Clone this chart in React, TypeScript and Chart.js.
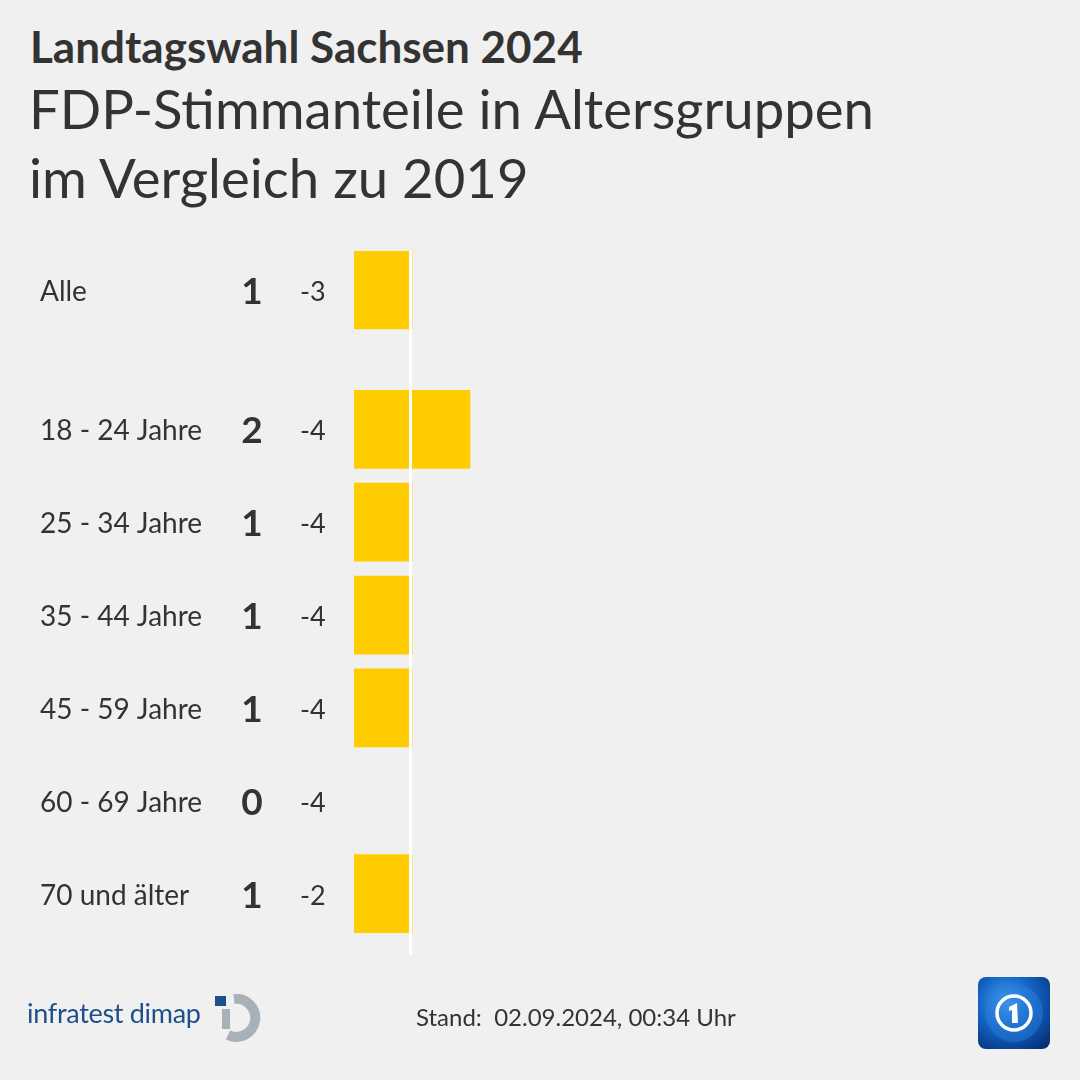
import React, { useEffect, useRef } from "react";
import { Chart, registerables } from "chart.js";

Chart.register(...registerables);

// ---- data ----
const CATEGORIES = [
  "Alle",
  "18 - 24 Jahre",
  "25 - 34 Jahre",
  "35 - 44 Jahre",
  "45 - 59 Jahre",
  "60 - 69 Jahre",
  "70 und älter",
];
const SHARES = [1, 2, 1, 1, 1, 0, 1];
const CHANGES = [-3, -4, -4, -4, -4, -4, -2];
const REFERENCE_VALUE = 1;
const X_MAX = 12;

const TITLE = "Landtagswahl Sachsen 2024";
const SUBTITLE_LINES = ["FDP-Stimmanteile in Altersgruppen", "im Vergleich zu 2019"];
const SOURCE = "infratest dimap";
const STAND = "Stand:\u00a0 02.09.2024, 00:34 Uhr";

// ---- styles ----
const BG = "#f0f0f0";
const BAR = "#ffcc00";
const TEXT = "#333333";
const FONT = "Lato, 'Open Sans', sans-serif";
const GROUP_GAP = 0.5; // extra space after the "Alle" row

const rowPos = (i: number) => i + (i > 0 ? GROUP_GAP : 0);

const labelPlugin = {
  id: "rowLabels",
  afterDatasetsDraw(chart: any) {
    const { ctx, chartArea, scales } = chart;
    const xs = scales.x;
    const ys = scales.y;
    // white reference line
    const rx = xs.getPixelForValue(REFERENCE_VALUE) - 1.5;
    ctx.save();
    ctx.strokeStyle = "#ffffff";
    ctx.lineWidth = 3;
    ctx.beginPath();
    ctx.moveTo(rx, chartArea.top);
    ctx.lineTo(rx, chartArea.bottom);
    ctx.stroke();

    ctx.fillStyle = TEXT;
    CATEGORIES.forEach((cat, i) => {
      const y = ys.getPixelForValue(rowPos(i));
      ctx.textBaseline = "alphabetic";
      ctx.font = `400 28px ${FONT}`;
      ctx.textAlign = "left";
      ctx.fillText(cat, 40, y + 11);
      ctx.font = `700 37px ${FONT}`;
      ctx.textAlign = "center";
      ctx.fillText(String(SHARES[i]), 252, y + 14);
      ctx.font = `400 27px ${FONT}`;
      ctx.textAlign = "left";
      const c = CHANGES[i];
      ctx.fillText(c > 0 ? `+${c}` : String(c), 300, y + 11);
    });
    ctx.restore();
  },
};

export default function App() {
  const ref = useRef<HTMLCanvasElement | null>(null);

  useEffect(() => {
    if (!ref.current) return;
    const chart = new Chart(ref.current, {
      type: "bar",
      data: {
        datasets: [
          {
            data: CATEGORIES.map((_, i) => ({ x: SHARES[i], y: rowPos(i) })),
            backgroundColor: (c: any) => (c.raw && c.raw.x > 0 ? BAR : "rgba(0,0,0,0)"),
            borderWidth: 0,
            barThickness: 78,
          } as any,
        ],
      },
      options: {
        indexAxis: "y",
        responsive: false,
        animation: false,
        layout: { padding: { left: 354, right: 30, top: 251, bottom: 125 } },
        scales: {
          x: { type: "linear", min: 0, max: X_MAX, display: false, offset: false },
          y: {
            type: "linear",
            min: -0.42,
            max: 7.16,
            reverse: true,
            display: false,
            offset: false,
            grid: { offset: false },
          },
        },
        plugins: {
          legend: { display: false },
          tooltip: { enabled: false },
        },
      } as any,
      plugins: [labelPlugin],
    });
    return () => chart.destroy();
  }, []);

  return (
    <div
      style={{
        position: "absolute",
        left: 0,
        top: 0,
        width: 1080,
        height: 1080,
        background: BG,
        overflow: "hidden",
        fontFamily: FONT,
        color: TEXT,
      }}
    >
      <div
        style={{
          position: "absolute",
          left: 30,
          top: 24,
          fontSize: 44,
          fontWeight: 700,
          lineHeight: "44px",
          whiteSpace: "nowrap",
        }}
      >
        {TITLE}
      </div>
      <div
        style={{
          position: "absolute",
          left: 29,
          top: 74,
          fontSize: 54.5,
          fontWeight: 400,
          lineHeight: "69px",
          whiteSpace: "nowrap",
        }}
      >
        {SUBTITLE_LINES.map((l) => (
          <div key={l}>{l}</div>
        ))}
      </div>
      <canvas
        ref={ref}
        width={1080}
        height={1080}
        style={{ position: "absolute", left: 0, top: 0, width: 1080, height: 1080 }}
      />
      <div
        style={{
          position: "absolute",
          left: 27,
          top: 999,
          fontSize: 27,
          lineHeight: "27px",
          color: "#1f4f8b",
          letterSpacing: "-0.3px",
          whiteSpace: "nowrap",
        }}
      >
        {SOURCE}
      </div>
      <svg
        style={{ position: "absolute", left: 212, top: 994 }}
        width={50}
        height={48}
        viewBox="0 0 50 48"
      >
        <rect x={3} y={2} width={11} height={10} fill="#1f4f8b" />
        <path
          d="M 22 5 A 19 19 0 1 1 16 41"
          fill="none"
          stroke="#a8b0b8"
          strokeWidth={10}
        />
        <rect x={10} y={15} width={8} height={20} fill="#a8b0b8" />
      </svg>
      <div
        style={{
          position: "absolute",
          left: 416,
          top: 1004.5,
          fontSize: 24,
          lineHeight: "24px",
          whiteSpace: "nowrap",
        }}
      >
        {STAND}
      </div>
      <svg
        style={{ position: "absolute", left: 978, top: 977 }}
        width={72}
        height={72}
        viewBox="0 0 72 72"
      >
        <defs>
          <radialGradient id="tsbg" cx="0.4" cy="0.35" r="0.8">
            <stop offset="0" stopColor="#4aa3f0" />
            <stop offset="0.5" stopColor="#1263c4" />
            <stop offset="1" stopColor="#062f78" />
          </radialGradient>
        </defs>
        <rect x={0} y={0} width={72} height={72} rx={8} fill="url(#tsbg)" />
        <circle cx={36} cy={36} r={29} fill="#2a7fdc" opacity={0.45} />
        <circle cx={36} cy={36} r={17} fill="none" stroke="#ffffff" strokeWidth={3.5} />
        <path d="M 31 30 L 39 26 L 40 46 L 34 46 L 34 33 L 31 34 Z" fill="#ffffff" />
      </svg>
    </div>
  );
}
